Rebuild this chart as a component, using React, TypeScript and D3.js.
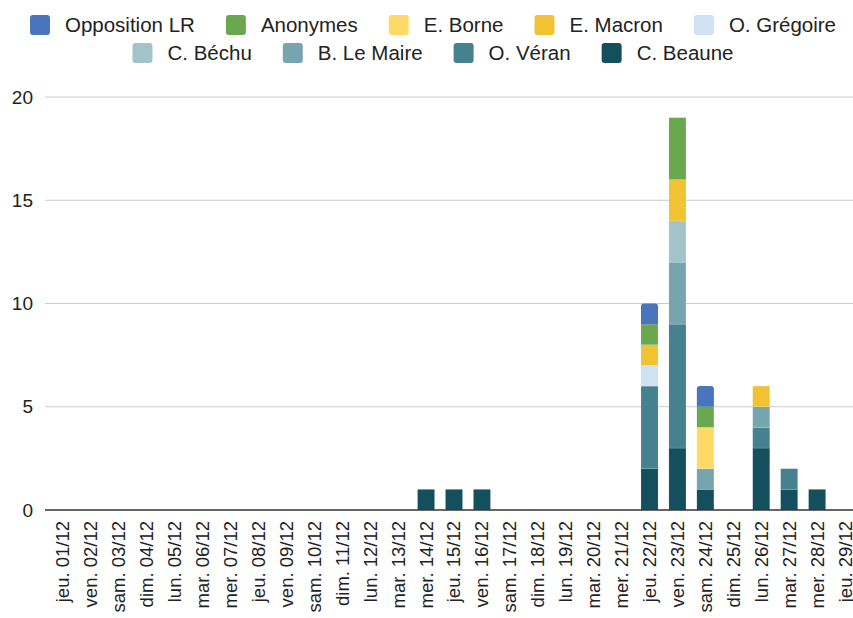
import React from "react";
import * as d3 from "d3";

const categories: string[] = [
  "jeu. 01/12","ven. 02/12","sam. 03/12","dim. 04/12","lun. 05/12","mar. 06/12","mer. 07/12",
  "jeu. 08/12","ven. 09/12","sam. 10/12","dim. 11/12","lun. 12/12","mar. 13/12","mer. 14/12",
  "jeu. 15/12","ven. 16/12","sam. 17/12","dim. 18/12","lun. 19/12","mar. 20/12","mer. 21/12",
  "jeu. 22/12","ven. 23/12","sam. 24/12","dim. 25/12","lun. 26/12","mar. 27/12","mer. 28/12","jeu. 29/12"
];

// stacking order bottom -> top
const seriesNames = ["C. Beaune","O. Véran","B. Le Maire","C. Béchu","O. Grégoire","E. Macron","E. Borne","Anonymes","Opposition LR"];
const seriesColors = ["#134f5c","#45818e","#76a5af","#a2c4c9","#cfe2f3","#f1c232","#ffd966","#6aa84f","#4a74bb"];

const beaune   = [0,0,0,0,0,0,0,0,0,0,0,0,0,1,1,1,0,0,0,0,0,2,3,1,0,3,1,1,0];
const veran    = [0,0,0,0,0,0,0,0,0,0,0,0,0,0,0,0,0,0,0,0,0,4,6,0,0,1,1,0,0];
const leMaire  = [0,0,0,0,0,0,0,0,0,0,0,0,0,0,0,0,0,0,0,0,0,0,3,1,0,1,0,0,0];
const bechu    = [0,0,0,0,0,0,0,0,0,0,0,0,0,0,0,0,0,0,0,0,0,0,2,0,0,0,0,0,0];
const gregoire = [0,0,0,0,0,0,0,0,0,0,0,0,0,0,0,0,0,0,0,0,0,1,0,0,0,0,0,0,0];
const macron   = [0,0,0,0,0,0,0,0,0,0,0,0,0,0,0,0,0,0,0,0,0,1,2,0,0,1,0,0,0];
const borne    = [0,0,0,0,0,0,0,0,0,0,0,0,0,0,0,0,0,0,0,0,0,0,0,2,0,0,0,0,0];
const anonymes = [0,0,0,0,0,0,0,0,0,0,0,0,0,0,0,0,0,0,0,0,0,1,3,1,0,0,0,0,0];
const lr       = [0,0,0,0,0,0,0,0,0,0,0,0,0,0,0,0,0,0,0,0,0,1,0,1,0,0,0,0,0];
const seriesValues = [beaune, veran, leMaire, bechu, gregoire, macron, borne, anonymes, lr];

const yTicks = [0, 5, 10, 15, 20];
// legend display order
const legendRows = [
  ["Opposition LR","Anonymes","E. Borne","E. Macron","O. Grégoire"],
  ["C. Béchu","B. Le Maire","O. Véran","C. Beaune"],
];

const W = 853, H = 618;
const FONT = "Liberation Sans, Arial, sans-serif";

function measure(text: string, size: number): number {
  const c = document.createElement("canvas").getContext("2d");
  if (!c) return text.length * size * 0.55;
  c.font = `${size}px ${FONT}`;
  return c.measureText(text).width;
}

export default function App() {
  const x = d3.scaleBand<string>().domain(categories).range([49, 859]).paddingInner(0.39).paddingOuter(0.195);
  const y = d3.scaleLinear().domain([0, 20]).range([510, 97]);

  const rows = categories.map((c, i) => {
    const r: any = { cat: c };
    seriesNames.forEach((s, k) => (r[s] = seriesValues[k][i]));
    return r;
  });
  const stack = d3.stack<any>().keys(seriesNames)(rows);

  const legendSize = 20.5;
  const sq = 20, gapSqText = 15, gapItem = 31;
  const legend = legendRows.map((row, ri) => {
    const widths = row.map((n) => measure(n, legendSize));
    const total = widths.reduce((a, b) => a + b + sq + gapSqText, 0) + gapItem * (row.length - 1);
    let cx = 433 - total / 2;
    const items = row.map((n, j) => {
      const it = { name: n, x: cx, color: seriesColors[seriesNames.indexOf(n)] };
      cx += sq + gapSqText + widths[j] + gapItem;
      return it;
    });
    return { y: ri === 0 ? 25 : 53, items };
  });

  const bw = x.bandwidth();

  return (
    <svg width={W} height={H} style={{ position: "absolute", left: 0, top: 0, background: "#fff" }} fontFamily={FONT}>
      {legend.map((row, ri) =>
        row.items.map((it) => (
          <g key={ri + it.name}>
            <rect x={it.x} y={row.y - sq / 2} width={sq} height={sq} rx={3} fill={it.color} />
            <text x={it.x + sq + gapSqText} y={row.y} dy="0.35em" fontSize={legendSize} fill="#222">{it.name}</text>
          </g>
        ))
      )}
      {yTicks.map((t) => (
        <g key={t}>
          {t !== 0 && <line x1={45} x2={W} y1={y(t)} y2={y(t)} stroke="#cccccc" strokeWidth={1} />}
          <text x={33} y={y(t)} dy="0.35em" textAnchor="end" fontSize={19} fill="#222">{t}</text>
        </g>
      ))}
      {stack.map((layer, k) =>
        layer.map((d, i) => {
          if (d[1] - d[0] <= 0) return null;
          const x0 = x(categories[i])!;
          const top = y(d[1]), bot = y(d[0]);
          const isTop = k === seriesNames.length - 1;
          if (isTop) {
            const r = 3;
            const p = `M${x0},${bot} V${top + r} Q${x0},${top} ${x0 + r},${top} H${x0 + bw - r} Q${x0 + bw},${top} ${x0 + bw},${top + r} V${bot} Z`;
            return <path key={k + "-" + i} d={p} fill={seriesColors[k]} />;
          }
          return <rect key={k + "-" + i} x={x0} y={top} width={bw} height={bot - top} fill={seriesColors[k]} stroke="rgba(255,255,255,0.25)" strokeWidth={0.5} />;
        })
      )}
      <line x1={45} x2={W} y1={y(0)} y2={y(0)} stroke="#333" strokeWidth={1.5} />
      {categories.map((c) => {
        const cx = x(c)! + bw / 2;
        return (
          <text key={c} transform={`translate(${cx},${521}) rotate(-90)`} textAnchor="end" dy="0.35em" fontSize={18.5} fill="#222">{c}</text>
        );
      })}
    </svg>
  );
}
